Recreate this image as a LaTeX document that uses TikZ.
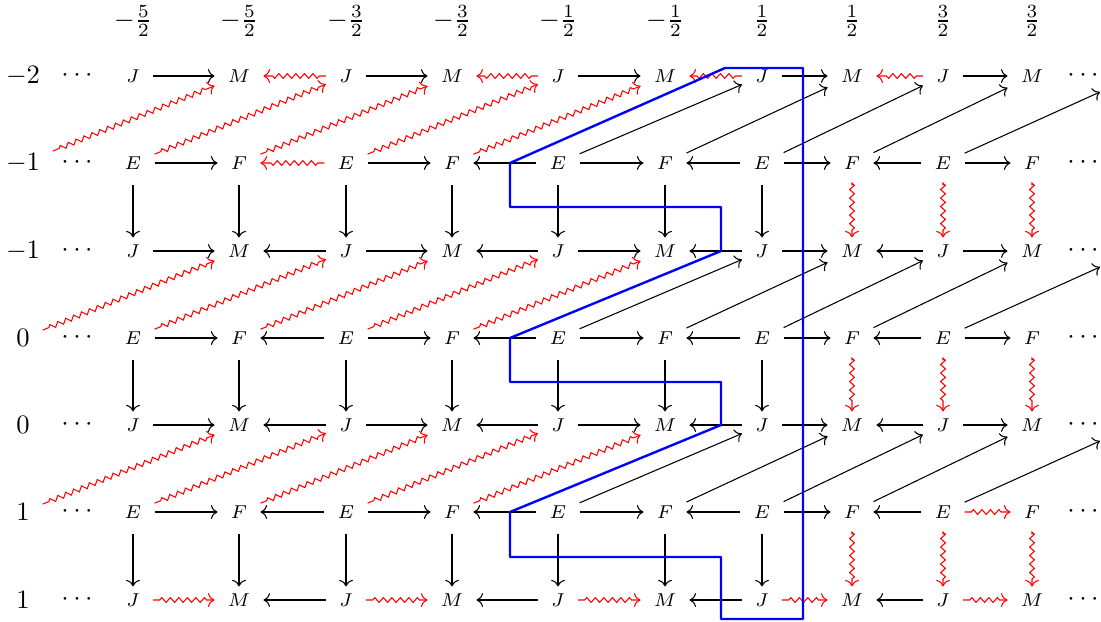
\documentclass[tikz,border=0pt]{standalone}
\usetikzlibrary{arrows.meta,decorations.pathmorphing}
\begin{document}
\begin{tikzpicture}[x=0.376pt,y=-0.376pt,
  obj/.style={font=\scriptsize, inner xsep=4.8pt, inner ysep=2.5pt},
  lab/.style={inner xsep=4.7pt, inner ysep=2pt},
  ar/.style={-{Computer Modern Rightarrow}, line width=0.4pt},
  sq/.style={-{Computer Modern Rightarrow}, red, line width=0.4pt, decorate,
     decoration={zigzag, amplitude=0.9pt, segment length=3.2pt, pre length=2.5pt, post length=2.5pt}},
  vert/.style={shorten <=3.3pt},
  wall/.style={blue, line width=0.9pt, line join=round}
]
\useasboundingbox (0,0) rectangle (1101,621);
% top labels
\foreach \x/\t [count=\ci] in {133/-\frac{5}{2},239/-\frac{5}{2},346/-\frac{3}{2},452/-\frac{3}{2},558/-\frac{1}{2},665/-\frac{1}{2},762/\frac{1}{2},852/\frac{1}{2},943/\frac{3}{2},1032/\frac{3}{2}}
  \node[inner sep=1pt] (top\ci) at (\x,21) {$\t$};
% row labels and dots
\foreach \y/\t [count=\ri] in {76/-2,163/-1,251/-1,338/0,425/0,512/1,600/1} {
  \node[lab] (L\ri) at (23,\y) {$\t$};
  \node (D\ri) at (77,\y) {$\cdots$};
  \node (R\ri) at (1083,\y) {$\cdots$};
}
% objects
\foreach \ri/\y in {1/76,3/251,5/425,7/600}
  \foreach \x/\t [count=\ci] in {133/J,239/M,346/J,452/M,558/J,665/M,762/J,852/M,943/J,1032/M}
    \node[obj] (n\ri c\ci) at (\x,\y) {$\t$};
\foreach \ri/\y in {2/163,4/338,6/512}
  \foreach \x/\t [count=\ci] in {133/E,239/F,346/E,452/F,558/E,665/F,762/E,852/F,943/E,1032/F}
    \node[obj] (n\ri c\ci) at (\x,\y) {$\t$};
% free ends of the last diagonals
\coordinate (t1) at (1100,92);
\coordinate (t3) at (1100,267);
\coordinate (t5) at (1100,441);
% horizontal arrows
\foreach \a/\b/\s in {1/2/ar,3/2/sq,3/4/ar,5/4/sq,5/6/ar,7/6/sq,7/8/ar,9/8/sq,9/10/ar}
  \draw[\s] (n1c\a) -- (n1c\b);
\foreach \a/\b/\s in {1/2/ar,3/2/sq,3/4/ar,5/4/ar,5/6/ar,7/6/ar,7/8/ar,9/8/ar,9/10/ar}
  \draw[\s] (n2c\a) -- (n2c\b);
\foreach \ri in {3,4,5}
  \foreach \a/\b in {1/2,3/2,3/4,5/4,5/6,7/6,7/8,9/8,9/10}
    \draw[ar] (n\ri c\a) -- (n\ri c\b);
\foreach \a/\b/\s in {1/2/ar,3/2/ar,3/4/ar,5/4/ar,5/6/ar,7/6/ar,7/8/ar,9/8/ar,9/10/sq}
  \draw[\s] (n6c\a) -- (n6c\b);
\foreach \a/\b/\s in {1/2/sq,3/2/ar,3/4/sq,5/4/ar,5/6/sq,7/6/ar,7/8/sq,9/8/ar,9/10/sq}
  \draw[\s] (n7c\a) -- (n7c\b);
% vertical arrows
\foreach \ri/\rj in {2/3,4/5,6/7} {
  \foreach \ci in {1,...,7}
    \draw[ar,vert] (n\ri c\ci) -- (n\rj c\ci);
  \foreach \ci in {8,9,10}
    \draw[sq,vert] (n\ri c\ci) -- (n\rj c\ci);
}
% diagonal arrows
\foreach \ri/\rj in {2/1,4/3,6/5} {
  \draw[sq] (L\ri) -- (n\rj c2);
  \foreach \a/\b in {1/3,2/4,3/5,4/6}
    \draw[sq] (n\ri c\a) -- (n\rj c\b);
  \foreach \a/\b in {5/7,6/8,7/9,8/10}
    \draw[ar] (n\ri c\a) -- (n\rj c\b);
  \draw[ar] (n\ri c9) -- (t\rj);
}
% blue wall
\draw[wall] (510,163) -- (725,68) -- (803,68) -- (803,619) -- (721,619) -- (721,557)
  -- (510,557) -- (510,512) -- (721,425) -- (721,382) -- (510,382) -- (510,338)
  -- (721,251) -- (721,207) -- (510,207) -- cycle;
\end{tikzpicture}
\end{document}
